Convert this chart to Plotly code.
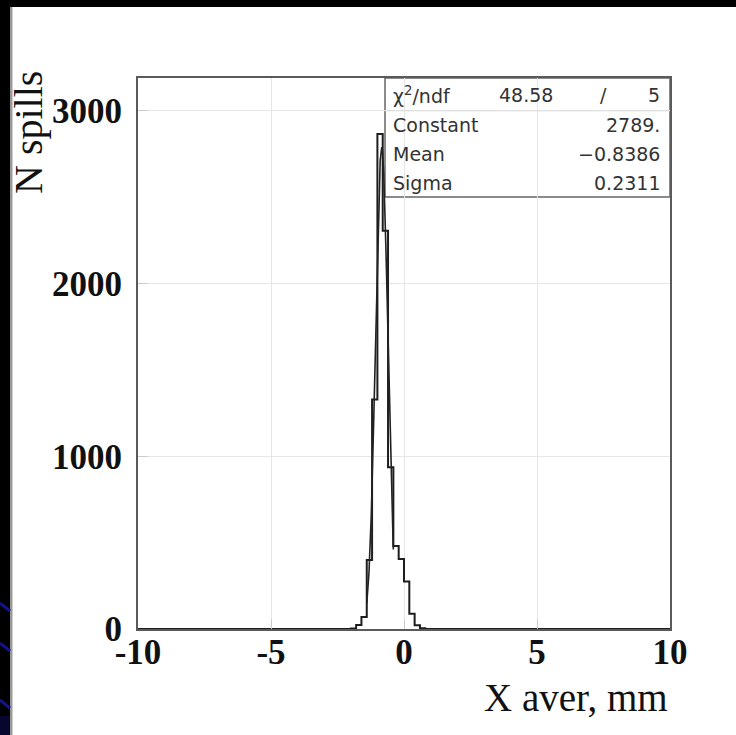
import numpy as np
import plotly.graph_objects as go

# Histogram: 100 bins of 0.2 mm from -10 to 10 mm, only the filled bins listed
bin_width = 0.2
x_min, x_max = -10.0, 10.0
filled_lo_edges = [-2.0, -1.8, -1.6, -1.4, -1.2, -1.0, -0.8, -0.6, -0.4, -0.2, 0.0, 0.2, 0.4, 0.6]
filled_counts = [3, 23, 69, 399, 1329, 2866, 2306, 936, 480, 405, 275, 88, 22, 5]

# Gaussian fit result
fit_constant = 2789.0
fit_mean = -0.8386
fit_sigma = 0.2311
fit_chi2 = 48.58
fit_ndf = 5
fit_curve_range = [-1.4, -0.4]

x_tick_vals = [-10, -5, 0, 5, 10]
x_tick_text = ["-10", "-5", "0", "5", "10"]
y_tick_vals = [0, 1000, 2000, 3000]
y_tick_text = ["0", "1000", "2000", "3000"]
y_top = 3190

# full set of bin edges and counts for the step outline
n_bins = int(round((x_max - x_min) / bin_width))
edges = np.round(np.linspace(x_min, x_max, n_bins + 1), 4)
counts = np.zeros(n_bins)
for lo, c in zip(filled_lo_edges, filled_counts):
    counts[int(round((lo - x_min) / bin_width))] = c
step_y = np.append(counts, counts[-1])

fx = np.linspace(fit_curve_range[0], fit_curve_range[1], 200)
fy = fit_constant * np.exp(-0.5 * ((fx - fit_mean) / fit_sigma) ** 2)

W, H = 736, 735
L, R, T, B = 138, 66, 78, 106
PW, PH = W - L - R, H - T - B


def px(xp):
    return (xp - L) / PW


def py(yp):
    return (H - B - yp) / PH


fig = go.Figure()
fig.add_trace(go.Scatter(x=edges, y=step_y, mode="lines", line_shape="hv",
                         line=dict(color="#1e1e1e", width=2), showlegend=False,
                         hoverinfo="skip"))
fig.add_trace(go.Scatter(x=fx, y=fy, mode="lines",
                         line=dict(color="#222222", width=1.6), showlegend=False,
                         hoverinfo="skip"))

tick_font = dict(family="Liberation Serif", size=35, color="#111111", weight="bold")
axis_common = dict(tickfont=tick_font, showgrid=True, gridcolor="#e6e6e6", gridwidth=1,
                   zeroline=False, showline=True, linecolor="#5a5a5a", linewidth=2,
                   mirror=True, ticks="inside", ticklen=10, tickcolor="#cccccc")
fig.update_xaxes(range=[x_min, x_max], tickvals=x_tick_vals, ticktext=x_tick_text,
                 ticklabelstandoff=-9, **axis_common)
fig.update_yaxes(range=[0, y_top], tickvals=y_tick_vals, ticktext=y_tick_text,
                 ticklabelstandoff=7, **axis_common)

shapes = []
# slide border: black strips on top and left with a few navy streaks
shapes.append(dict(type="rect", xref="paper", yref="paper", x0=px(0), x1=px(W),
                   y0=py(7), y1=py(-2), fillcolor="black", line_width=0, layer="above"))
shapes.append(dict(type="rect", xref="paper", yref="paper", x0=px(-2), x1=px(10),
                   y0=py(H + 2), y1=py(-2), fillcolor="black", line_width=0, layer="above"))
shapes.append(dict(type="rect", xref="paper", yref="paper", x0=px(10), x1=px(12.5),
                   y0=py(H + 2), y1=py(7), fillcolor="#9a9a9a", line_width=0, layer="above"))
shapes.append(dict(type="rect", xref="paper", yref="paper", x0=px(-2), x1=px(10),
                   y0=py(H + 2), y1=py(716), fillcolor="#07072e", line_width=0, layer="above"))
for y0 in [603, 643, 700]:
    shapes.append(dict(type="line", xref="paper", yref="paper", x0=px(0), x1=px(10),
                       y0=py(y0), y1=py(y0 + 8), line=dict(color="#14148a", width=3),
                       layer="above"))
# fit statistics box
shapes.append(dict(type="rect", xref="paper", yref="paper", x0=px(385), x1=1,
                   y0=py(197), y1=1, fillcolor="white",
                   line=dict(color="#666666", width=1.5), layer="between"))
shapes.append(dict(type="line", xref="paper", yref="y", x0=px(385), x1=1,
                   y0=3000, y1=3000, line=dict(color="#dcdcdc", width=1), layer="above"))

stat_font = dict(family="DejaVu Sans", size=19, color="#333333")
rows_y = [95, 125, 154, 183]
annotations = []
labels = ["χ<sup>2</sup>/ndf", "Constant", "Mean", "Sigma"]
values = [None, f"{fit_constant:.0f}.", f"{fit_mean:.4f}".replace("-", "−"), f"{fit_sigma:.4f}"]
for ry, lab, val in zip(rows_y, labels, values):
    annotations.append(dict(text=lab, xref="paper", yref="paper", x=px(391), y=py(ry),
                            xanchor="left", yanchor="middle", showarrow=False, font=stat_font))
    if val is not None:
        annotations.append(dict(text=val, xref="paper", yref="paper", x=px(662), y=py(ry),
                                xanchor="right", yanchor="middle", showarrow=False,
                                font=stat_font))
annotations.append(dict(text=f"{fit_chi2:.2f}", xref="paper", yref="paper", x=px(526),
                        y=py(rows_y[0]), xanchor="center", yanchor="middle",
                        showarrow=False, font=stat_font))
annotations.append(dict(text="/", xref="paper", yref="paper", x=px(603), y=py(rows_y[0]),
                        xanchor="center", yanchor="middle", showarrow=False, font=stat_font))
annotations.append(dict(text=str(fit_ndf), xref="paper", yref="paper", x=px(662),
                        y=py(rows_y[0]), xanchor="right", yanchor="middle",
                        showarrow=False, font=stat_font))

# axis titles
annotations.append(dict(text="N spills", xref="paper", yref="paper", x=px(29), y=py(133),
                        xanchor="center", yanchor="middle", textangle=-90,
                        showarrow=False, font=dict(family="Liberation Serif", size=40,
                                                   color="#111111")))
annotations.append(dict(text="X aver, mm", xref="paper", yref="paper", x=px(670), y=py(697),
                        xanchor="right", yanchor="middle", showarrow=False,
                        font=dict(family="Liberation Serif", size=39, color="#111111")))

fig.update_layout(width=W, height=H, margin=dict(l=L, r=R, t=T, b=B, pad=0),
                  paper_bgcolor="white", plot_bgcolor="white",
                  shapes=shapes, annotations=annotations, showlegend=False)

fig.write_html("out.html")
